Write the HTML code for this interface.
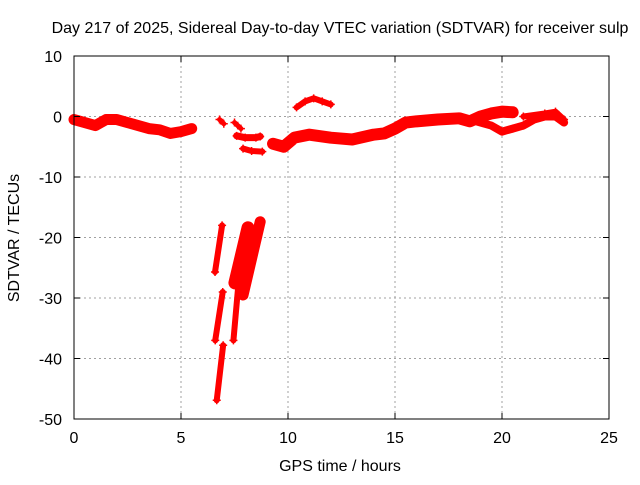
<!DOCTYPE html>
<html><head><meta charset="utf-8"><style>
body{margin:0;background:#fff;}
svg text{font-family:"Liberation Sans",sans-serif;font-size:16px;fill:#000;}
</style></head><body>
<svg id="chart" width="640" height="480" viewBox="0 0 640 480" xmlns="http://www.w3.org/2000/svg">
<rect width="640" height="480" fill="#fff"/>
<g id="grid"></g>
<g id="series"></g>
<rect x="74" y="56" width="535" height="363" fill="none" stroke="#000" stroke-width="1"/>
<g id="ticks"></g>
<text x="340" y="33" text-anchor="middle">Day 217 of 2025, Sidereal Day-to-day VTEC variation (SDTVAR) for receiver sulp</text>
<text x="340" y="471" text-anchor="middle">GPS time / hours</text>
<text x="19" y="238" text-anchor="middle" transform="rotate(-90 19 238)">SDTVAR / TECUs</text>
</svg>
<script>
const xTicks=[0,5,10,15,20,25];
const yTicks=[10,0,-10,-20,-30,-40,-50];
const band1=[[0,-0.5],[0.5,-1],[1,-1.5],[1.5,-0.5],[2,-0.5],[2.5,-1],[3,-1.5],[3.5,-2],[4,-2.2],[4.5,-2.8],[5,-2.5],[5.5,-2]];
const bit1=[[6.8,-0.5],[7.0,-1.2]];
const bit2=[[7.5,-1],[7.8,-2]];
const bit3=[[7.6,-3.2],[8.0,-3.5],[8.5,-3.5],[8.7,-3.3]];
const bit4=[[7.9,-5.3],[8.3,-5.7],[8.8,-5.8]];
const hump=[[10.4,1.5],[10.8,2.5],[11.2,3],[11.6,2.5],[12,2]];
const band2=[[9.3,-4.5],[9.8,-5],[10.3,-3.5],[11,-3],[12,-3.5],[13,-3.8],[14,-3],[14.5,-2.8],[15,-2],[15.5,-1],[16,-0.8],[17,-0.5],[18,-0.3],[18.5,-0.8],[19,0],[19.5,0.5],[20,0.8],[20.5,0.7]];
const lower=[[18.5,-0.5],[19.5,-1.5],[20,-2.5],[20.5,-2],[21,-1.5],[21.5,-0.5],[22,0],[22.5,0],[22.9,-1]];
const upper=[[21,0],[22,0.5],[22.5,0.8],[22.9,-0.5]];
const steepA=[[6.92,-18],[6.59,-25.7]];
const steepB=[[6.95,-29],[6.6,-37]];
const steepC=[[6.97,-37.8],[6.67,-46.9]];
const steepD=[[8.13,-18.4],[7.52,-27.5]];
const steepD2=[[7.7,-27],[7.45,-37]];
const steepE=[[8.7,-17.4],[7.9,-29.5]];
const series=[[band1,11],[bit1,5],[bit2,5],[bit3,7],[bit4,6],[hump,6],[band2,12],[lower,8],[upper,6],[steepA,6],[steepB,6],[steepC,6],[steepD,13],[steepD2,6],[steepE,11]];
const X=h=>74+h*535/25, Y=v=>56+(10-v)*363/60;
const NS='http://www.w3.org/2000/svg';
const grid=document.getElementById('grid'), ticks=document.getElementById('ticks'), sg=document.getElementById('series');
function mk(tag,attrs,parent){const e=document.createElementNS(NS,tag);for(const k in attrs)e.setAttribute(k,attrs[k]);parent.appendChild(e);return e;}
xTicks.forEach(t=>{const x=X(t);
 if(t>0&&t<25){const g=mk('line',{x1:x,x2:x,y1:56,y2:419,stroke:'#a0a0a0','stroke-dasharray':'2,3'},grid);}
 mk('line',{x1:x,x2:x,y1:419,y2:413,stroke:'#000'},ticks);mk('line',{x1:x,x2:x,y1:56,y2:62,stroke:'#000'},ticks);
 const tx=mk('text',{x:x,y:443,'text-anchor':'middle'},ticks);tx.textContent=t;
 });
yTicks.forEach(t=>{const y=Y(t);
 if(t<10&&t>-50){const g=mk('line',{x1:74,x2:609,y1:y,y2:y,stroke:'#a0a0a0','stroke-dasharray':'2,3'},grid);}
 mk('line',{x1:74,x2:80,y1:y,y2:y,stroke:'#000'},ticks);mk('line',{x1:609,x2:603,y1:y,y2:y,stroke:'#000'},ticks);
 const tx=mk('text',{x:62,y:y+6,'text-anchor':'end'},ticks);tx.textContent=t;
 });
series.forEach(([pts,w])=>{
 const pl=mk('polyline',{points:pts.map(p=>X(p[0])+','+Y(p[1])).join(' '),fill:'none',stroke:'#f00','stroke-width':w,'stroke-linecap':'round','stroke-linejoin':'round'},sg);
 
 pts.forEach(p=>{const x=X(p[0]),y=Y(p[1]);
  const m=mk('path',{d:`M${x-4},${y}h8M${x},${y-4}v8`,stroke:'#f00','stroke-width':1.5},sg);
  });
});
</script>
</body></html>
